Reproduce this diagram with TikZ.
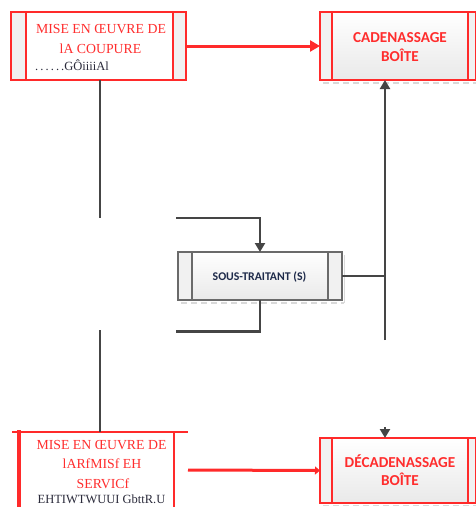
\documentclass[tikz,border=0pt]{standalone}
\usepackage{fontspec}
\setmainfont{Liberation Serif}
\newfontfamily\carl{Carlito}
\usetikzlibrary{arrows.meta,calc}
\definecolor{boxred}{HTML}{FF2A2A}
\definecolor{txtred}{HTML}{FF2D2D}
\definecolor{linegray}{HTML}{454545}
\definecolor{navy}{HTML}{1E2A4A}
\definecolor{darktxt}{HTML}{2B2B3B}
\definecolor{panel}{HTML}{F1F1F1}
\definecolor{panelb}{HTML}{E9E9E9}
\definecolor{grayedge}{HTML}{6A6A6A}
\begin{document}
\begin{tikzpicture}[x=1pt,y=-1pt,
  boxbase/.style={inner sep=0pt, outer sep=0pt},
  redbox/.style={boxbase, draw=boxred, line width=1.3pt, fill=panel},
  graybox/.style={boxbase, draw=grayedge, line width=1.1pt, fill=panel},
  innerred/.style={draw=boxred, line width=1.3pt},
  innergray/.style={draw=grayedge, line width=1.1pt},
  shade/.style={top color=white, bottom color=panelb},
  shadowline/.style={draw=black!15, line width=1.5pt, dash pattern=on 6pt off 4pt},
  redserif/.style={font=\fontsize{13.8}{16}\selectfont, text=txtred, inner sep=0pt, anchor=base},
  darkserif/.style={font=\fontsize{12.5}{14}\selectfont, text=darktxt, inner sep=0pt, anchor=base},
  redsans/.style={font=\carl\bfseries\fontsize{15.2}{18}\selectfont, text=txtred, inner sep=0pt, anchor=base},
  navysans/.style={font=\carl\bfseries\fontsize{11.8}{14}\selectfont, text=navy, inner sep=0pt},
  darkline/.style={draw=linegray, line width=2.6pt},
  darkarrow/.style={darkline, -{Triangle[length=9pt,width=10pt]}},
  redarrow/.style={draw=boxred, line width=3pt, -{Triangle[length=10pt,width=11pt]}},
  redarrowsmall/.style={draw=boxred, line width=3pt, -{Triangle[length=5pt,width=8pt]}}
]
\useasboundingbox (0,0) rectangle (475,507);

% ---- Box 1 : mise en oeuvre de la coupure
\node[redbox, minimum width=175pt, minimum height=68pt] (box1) at (98.5,46) {};
\draw[innerred, fill=white] ([xshift=15pt]box1.north west) rectangle ([xshift=-13pt]box1.south east);
\node[redserif] (t1a) at (101,33) {MISE EN ŒUVRE DE};
\node[redserif] (t1b) at (100.5,53) {lA COUPURE};
\node[darkserif, anchor=base west] (t1c) at (35,70.5) {.\,.\,.\,.\,.\,.GÔiiiiAl};

% ---- Box 2 : cadenassage boite
\draw[shadowline] (323,83) -- (476,83);
\node[redbox, minimum width=156pt, minimum height=68pt] (box2) at (398,46) {};
\draw[innerred, shade] ([xshift=12pt]box2.north west) rectangle ([xshift=-8pt]box2.south east);
\node[redsans] (t2a) at (400,42) {CADENASSAGE};
\node[redsans] (t2b) at (400,61) {BOÎTE};

% ---- Sous-traitant
\draw[shadowline] (181,303) -- (344,303);
\draw[draw=black!15, line width=1.5pt] (344.5,255) -- (344.5,303);
\node[graybox, minimum width=164pt, minimum height=48pt] (st) at (260,276) {};
\draw[innergray, shade] ([xshift=14pt]st.north west) rectangle ([xshift=-14pt]st.south east);
\node[navysans] (tst) at (259.5,277) {SOUS-TRAITANT (S)};

% ---- Box 5 : decadenassage boite
\draw[shadowline] (323,505.5) -- (476,505.5);
\node[redbox, minimum width=156pt, minimum height=65pt] (box5) at (398,470.5) {};
\draw[innerred, shade] ([xshift=12pt]box5.north west) rectangle ([xshift=-8pt]box5.south east);
\node[redsans] (t5a) at (400,467) {DÉCADENASSAGE};
\node[redsans] (t5b) at (400,485.5) {BOÎTE};

% ---- Box 4 : mise en oeuvre de la remise en service (cut at bottom)
\node[boxbase, minimum width=176pt, minimum height=76pt] (box4) at (100,470) {};
\draw[draw=boxred, line width=1.3pt] (box4.north west) -- (box4.north east);
\draw[draw=boxred, line width=4pt] ([xshift=7pt,yshift=2pt]box4.north west) -- ([xshift=7pt,yshift=-10pt]box4.south west);
\draw[draw=boxred, line width=1.3pt] ([xshift=-14pt]box4.north east) -- ([xshift=-14pt,yshift=-10pt]box4.south east);
\node[redserif] (t4a) at (101.5,449) {MISE EN ŒUVRE DE};
\node[redserif] (t4b) at (102,468) {lARfMISf EH};
\node[redserif] (t4c) at (103,488) {SERVICf};
\node[darkserif] (t4d) at (101.5,503) {EHTIWTWUUI GbttR.U};

% ---- Connectors
\coordinate (g1) at (100,218);
\coordinate (g2) at (100,330);
\coordinate (h1) at (176,218);
\coordinate (h2) at (176,331.5);
\coordinate (v1) at (385,340);
\coordinate (v2) at (385,427);

\draw[redarrow] (box1.east) -- (box2.west);
\draw[redarrowsmall] (box4.east) -- (box5.west);

\draw[darkline] (box1.south -| g1) -- (g1);
\draw[darkline] (g2) -- (box4.north -| g2);
\draw[darkarrow] (h1) -| (st.north);
\draw[darkline] (st.south) |- (h2);
\draw[darkline] (st.east) -- (st.east -| v1);
\draw[darkarrow] (v1) -- (v1 |- box2.south);
\draw[darkarrow] (v2) -- (v2 |- box5.north);
\end{tikzpicture}
\end{document}
